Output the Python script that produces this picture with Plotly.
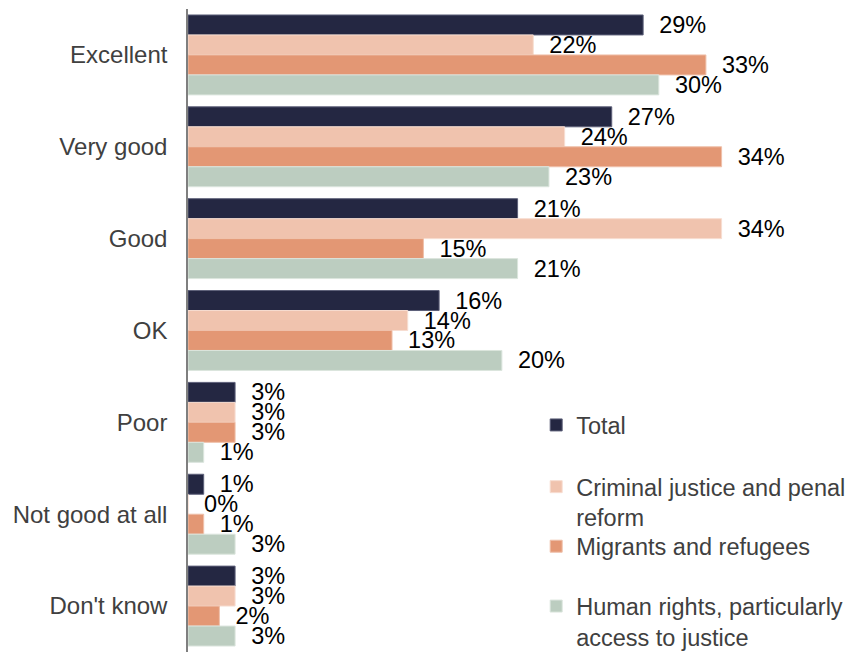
import plotly.graph_objects as go

# Survey ratings by area of work (percent of respondents)
categories = ["Excellent", "Very good", "Good", "OK", "Poor", "Not good at all", "Don't know"]
series_names = [
    "Total",
    "Criminal justice and penal<br>reform",
    "Migrants and refugees",
    "Human rights, particularly<br>access to justice",
]
total = [29, 27, 21, 16, 3, 1, 3]
criminal_justice = [22, 24, 34, 14, 3, 0, 3]
migrants = [33, 34, 15, 13, 3, 1, 2]
human_rights = [30, 23, 21, 20, 1, 3, 3]

colors = ["#242742", "#F0C3AE", "#E39774", "#BCCDC0"]
outline = ["#5d6079", "#f7ddd1", "#efc0aa", "#dbe5dd"]
legend_ids = ["legend", "legend2", "legend3", "legend4"]
legend_y = [0.387, 0.291, 0.1984, 0.1053]

FONT = "Liberation Sans, Arial, sans-serif"

fig = go.Figure()
for name, vals, col, oc, lid in zip(series_names, [total, criminal_justice, migrants, human_rights],
                                    colors, outline, legend_ids):
    fig.add_trace(go.Bar(
        y=categories,
        x=vals,
        name=name,
        orientation="h",
        marker=dict(color=col, line=dict(color=oc, width=1)),
        text=[f"\u00a0\u00a0{v}%" for v in vals],
        textposition="outside",
        constraintext="none",
        cliponaxis=False,
        textfont=dict(family=FONT, size=23.5, color="#000000"),
        legend=lid,
        hoverinfo="x+y+name",
    ))

layout_legends = {}
for lid, ly in zip(legend_ids, legend_y):
    layout_legends[lid] = dict(
        x=0.522, y=ly, xanchor="left", yanchor="top",
        bgcolor="rgba(0,0,0,0)", borderwidth=0,
        valign="top",
        font=dict(family=FONT, size=23.5, color="#404040"),
    )

fig.update_layout(
    width=855,
    height=652,
    margin=dict(l=188, r=0, t=9, b=0, autoexpand=False),
    paper_bgcolor="white",
    plot_bgcolor="white",
    barmode="group",
    bargap=0.13,
    bargroupgap=0,
    showlegend=True,
    **layout_legends,
)

fig.update_xaxes(range=[0, 42.5], visible=False, showgrid=False, zeroline=False)
fig.update_yaxes(
    autorange="reversed",
    showline=True,
    linecolor="#7f7f7f",
    linewidth=1.5,
    showgrid=False,
    ticks="",
    ticklabelstandoff=14,
    tickfont=dict(family=FONT, size=24, color="#404040"),
)

fig.write_html("out.html")
